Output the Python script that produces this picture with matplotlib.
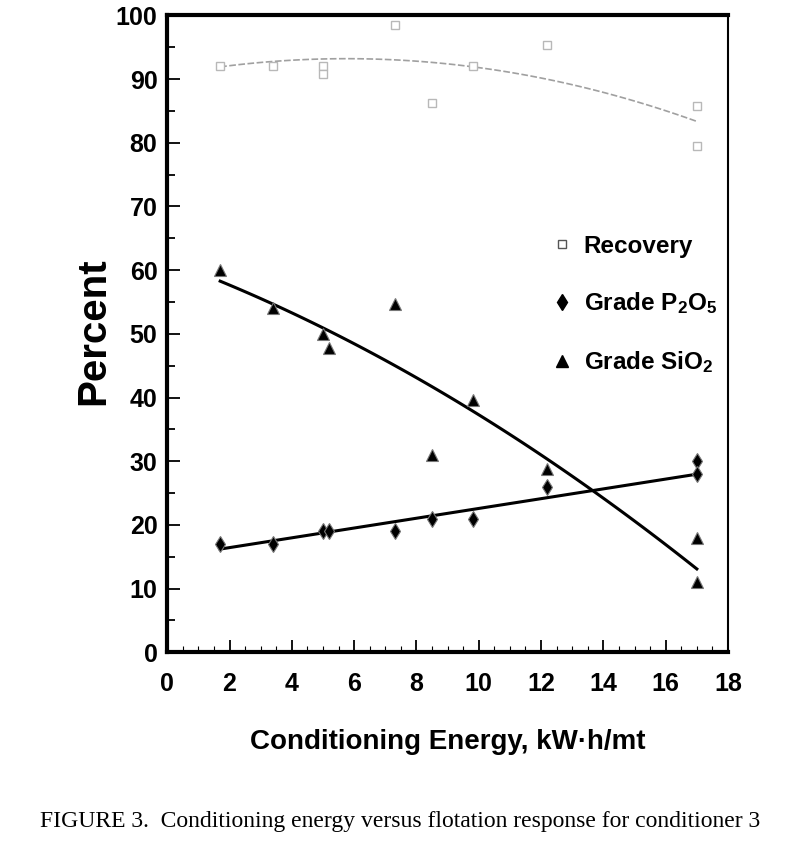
import numpy as np
import matplotlib.pyplot as plt
from matplotlib.lines import Line2D

# data
energy_rec = [1.7, 3.4, 5.0, 5.0, 7.3, 8.5, 9.8, 12.2, 17.0, 17.0]
recovery = [92, 92, 92, 90.8, 98.5, 86.2, 92, 95.3, 85.8, 79.5]

energy = [1.7, 3.4, 5.0, 5.2, 7.3, 8.5, 9.8, 12.2, 17.0, 17.0]
grade_p2o5 = [17, 17, 19, 19, 19, 21, 21, 26, 30, 28]
grade_sio2 = [60, 54, 50, 47.7, 54.7, 31, 39.6, 28.8, 18, 11]

# trend curves as drawn in the figure (read at a few x values)
fit_x = [1.7, 5.0, 8.1, 9.4, 13.6, 17.0]
fit_rec = [92.0, 93.0, 92.8, 92.2, 88.5, 83.3]
fit_p2o5 = [16.3, 18.8, 21.0, 22.0, 25.3, 28.1]
fit_sio2 = [58.1, 51.3, 42.7, 39.1, 25.4, 13.2]

xticks = list(range(0, 19, 2))
yticks = list(range(0, 101, 10))

plt.rcParams['font.family'] = ['Liberation Sans', 'DejaVu Sans']
plt.rcParams['font.weight'] = 'bold'
plt.rcParams['mathtext.fontset'] = 'custom'
plt.rcParams['mathtext.rm'] = 'Liberation Sans:bold'
plt.rcParams['mathtext.it'] = 'Liberation Sans:bold'

fig = plt.figure(figsize=(8, 8.56), dpi=100)
ax = fig.add_axes([0.209, 0.238, 0.701, 0.744])

xs = np.linspace(1.7, 17.0, 100)
ax.plot(xs, np.polyval(np.polyfit(fit_x, fit_rec, 2), xs),
        color='#a0a0a0', lw=1.2, ls=(0, (4, 1.5)))
ax.plot(xs, np.polyval(np.polyfit(fit_x, fit_p2o5, 1), xs), color='black', lw=2.2)
ax.plot(xs, np.polyval(np.polyfit(fit_x, fit_sio2, 2), xs), color='black', lw=2.2)

ax.plot(energy_rec, recovery, 's', ms=5.5, mfc='white', mec='#b8b8b8', mew=1)
ax.plot(energy, grade_p2o5, 'd', ms=8, color='black', mec='#777777', mew=0.8)
ax.plot(energy, grade_sio2, '^', ms=9, color='black', mec='#777777', mew=0.8)

ax.set_xlim(0, 18)
ax.set_ylim(0, 100)
ax.set_xticks(xticks)
ax.set_yticks(yticks)
ax.set_xticks(np.arange(0, 18.1, 0.5), minor=True)
ax.set_yticks(np.arange(0, 100.1, 5), minor=True)
ax.tick_params(which='both', direction='in', labelsize=18, width=1.3)
ax.tick_params(which='major', length=9)
ax.tick_params(which='minor', length=6)
ax.tick_params(axis='x', which='minor', length=4, width=0.8)
ax.tick_params(axis='x', pad=14)
ax.tick_params(axis='y', pad=7)

for side in ['left', 'bottom', 'top']:
    ax.spines[side].set_linewidth(3)
ax.spines['right'].set_linewidth(1.5)

ax.set_ylabel('Percent', fontsize=29, fontweight='bold')
ax.yaxis.set_label_coords(-0.098, 0.504)
ax.set_xlabel('Conditioning Energy, kW\u00b7h/mt', fontsize=20,
              fontweight='bold', labelpad=24)

handles = [
    Line2D([], [], ls='', marker='s', ms=6, mfc='white', mec='#555555'),
    Line2D([], [], ls='', marker='d', ms=8, color='black'),
    Line2D([], [], ls='', marker='^', ms=9, color='black'),
]
labels = ['Recovery', 'Grade P$_2$O$_5$', 'Grade SiO$_2$']
ax.legend(handles, labels, loc='upper left', bbox_to_anchor=(0.643, 0.69),
          frameon=False, fontsize=17.5, labelspacing=1.35, handletextpad=0.4,
          handlelength=1.0)

fig.text(0.5, 0.04, 'FIGURE 3.  Conditioning energy versus flotation response for conditioner 3',
         ha='center', va='center', fontsize=17, fontweight='normal',
         family=['Liberation Serif', 'DejaVu Serif'])

fig.savefig('out.png', dpi=100)
